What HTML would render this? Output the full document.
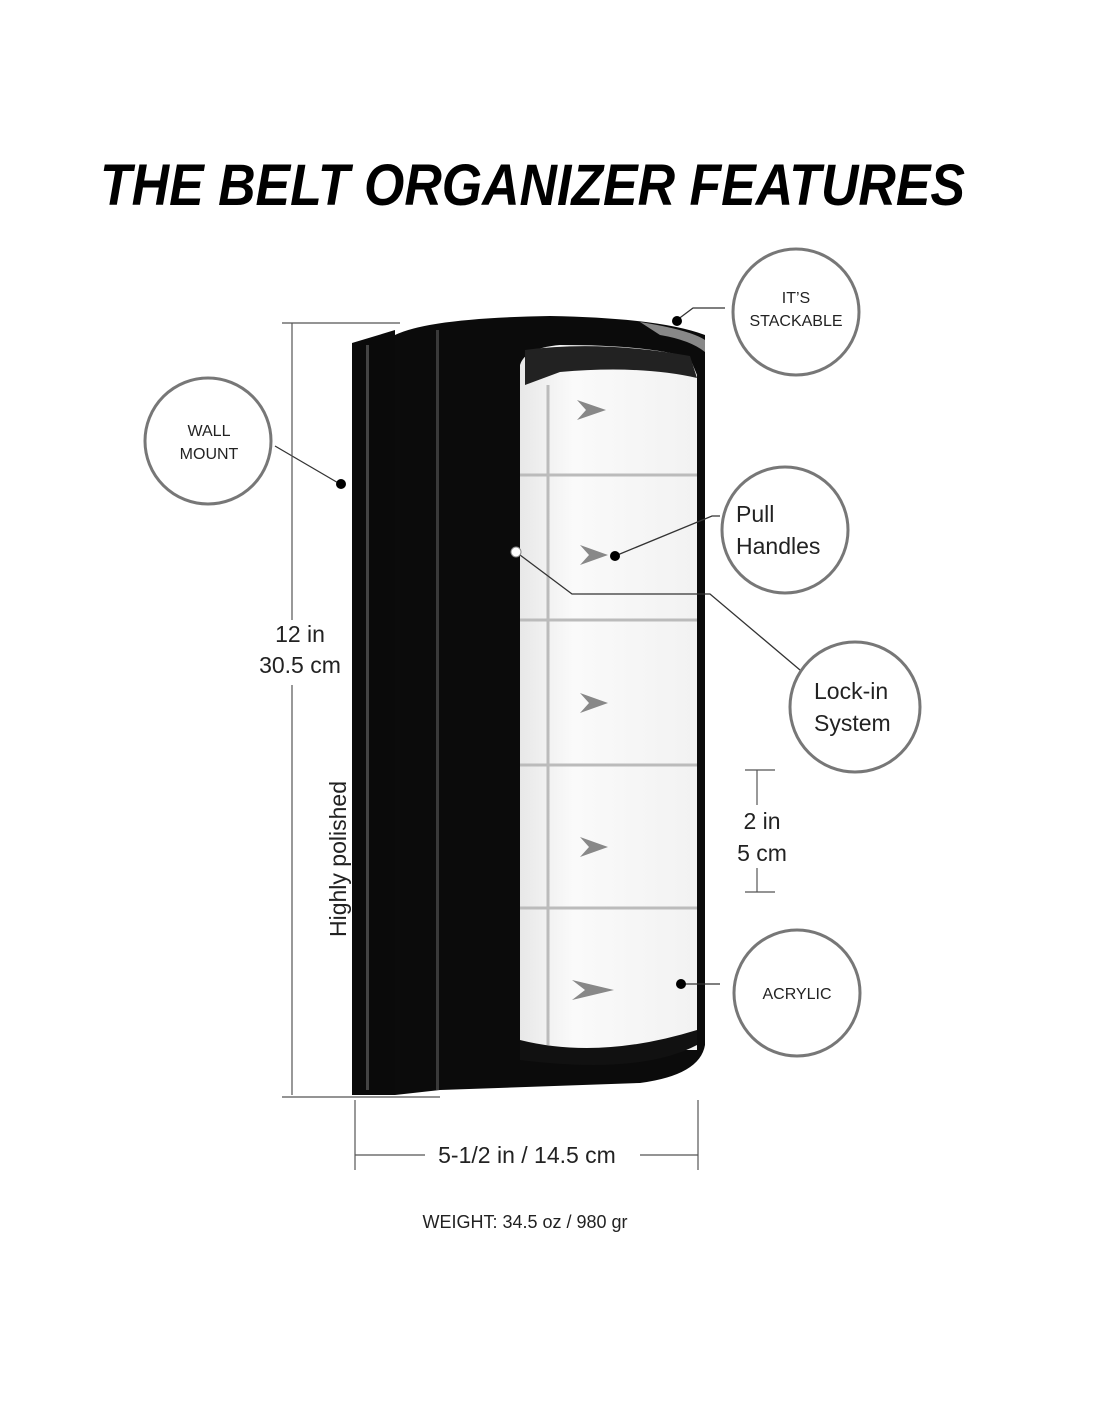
<!DOCTYPE html>
<html><head><meta charset="utf-8"><style>
body{margin:0;background:#fff;}
svg text{font-family:"Liberation Sans",sans-serif;fill:#222;}
</style></head><body>
<svg width="1100" height="1422" viewBox="0 0 1100 1422" xmlns="http://www.w3.org/2000/svg">
<text x="100" y="205" font-size="58" font-weight="bold" font-style="italic" fill="#000" style="fill:#000" textLength="865" lengthAdjust="spacingAndGlyphs">THE BELT ORGANIZER FEATURES</text>

<!-- product -->
<defs>
<linearGradient id="acr" x1="0" x2="1"><stop offset="0" stop-color="#e8e8e8"/><stop offset="0.3" stop-color="#fafafa"/><stop offset="1" stop-color="#f2f2f2"/></linearGradient>
</defs>
<path d="M352 343 L372 337 L395 330 L395 1095 L352 1095 Z" fill="#0a0a0a"/>
<path d="M395 335 Q430 318 550 316 Q660 318 705 335 L705 1045 Q700 1075 640 1083 L440 1090 L395 1095 Z" fill="#0b0b0b"/>
<rect x="366" y="345" width="3" height="745" fill="#444"/>
<rect x="436" y="330" width="3" height="760" fill="#3a3a3a"/>
<path d="M520 365 Q525 348 560 345 Q650 345 690 358 L697 375 L697 1050 L520 1050 Z" fill="url(#acr)"/>
<path d="M525 350 Q600 340 690 356 L697 378 Q640 365 560 372 L525 385 Z" fill="#222"/>
<path d="M640 322 Q690 330 705 340 L705 352 Q690 340 660 335 Z" fill="#888"/>
<g stroke="#bbb" stroke-width="3" fill="none">
<line x1="520" y1="475" x2="697" y2="475"/><line x1="520" y1="620" x2="697" y2="620"/>
<line x1="520" y1="765" x2="697" y2="765"/><line x1="520" y1="908" x2="697" y2="908"/>
<line x1="548" y1="385" x2="548" y2="1045"/>
</g>
<g fill="#888">
<path d="M577 400 L606 410 L577 420 L586 410 Z"/><path d="M580 545 L608 555 L580 565 L589 555 Z"/>
<path d="M580 693 L608 703 L580 713 L589 703 Z"/><path d="M580 837 L608 847 L580 857 L589 847 Z"/>
<path d="M572 980 L614 990 L572 1000 L585 990 Z"/>
</g>
<path d="M520 1040 Q600 1060 697 1030 L697 1045 Q640 1075 520 1060 Z" fill="#111"/>

<!-- connectors -->
<g stroke="#333" stroke-width="1.3" fill="none">
<polyline points="677,320 693,308 725,308"/>
<line x1="275" y1="446" x2="340" y2="484"/>
<polyline points="615,556 712,516 720,516"/>
<polyline points="516,552 572,594 710,594 800,670"/>
<polyline points="680,984 700,984 720,984"/>
</g>
<g fill="#000"><circle cx="677" cy="321" r="5"/><circle cx="341" cy="484" r="5"/><circle cx="615" cy="556" r="5"/><circle cx="681" cy="984" r="5"/></g>
<circle cx="516" cy="552" r="5" fill="#fff" stroke="#888"/>

<!-- circles -->
<g fill="#fff" stroke="#777" stroke-width="3">
<circle cx="796" cy="312" r="63"/><circle cx="208" cy="441" r="63"/>
<circle cx="785" cy="530" r="63"/><circle cx="855" cy="707" r="65"/><circle cx="797" cy="993" r="63"/>
</g>
<g font-size="16" text-anchor="middle">
<text x="796" y="303">IT’S</text><text x="796" y="326">STACKABLE</text>
<text x="209" y="436">WALL</text><text x="209" y="459">MOUNT</text>
<text x="797" y="999">ACRYLIC</text>
</g>
<g font-size="23">
<text x="736" y="522">Pull</text><text x="736" y="554">Handles</text>
<text x="814" y="699">Lock-in</text><text x="814" y="731">System</text>
</g>

<!-- dimensions -->
<g stroke="#555" stroke-width="1.2" fill="none">
<line x1="282" y1="323" x2="400" y2="323"/><line x1="292" y1="323" x2="292" y2="620"/><line x1="292" y1="685" x2="292" y2="1095"/>
<line x1="282" y1="1097" x2="440" y2="1097"/>
<line x1="745" y1="770" x2="775" y2="770"/><line x1="745" y1="892" x2="775" y2="892"/>
<line x1="757" y1="770" x2="757" y2="805"/><line x1="757" y1="868" x2="757" y2="892"/>
<line x1="355" y1="1100" x2="355" y2="1170"/><line x1="698" y1="1100" x2="698" y2="1170"/>
<line x1="355" y1="1155" x2="425" y2="1155"/><line x1="640" y1="1155" x2="698" y2="1155"/>
</g>
<g font-size="23">
<text x="300" y="642" text-anchor="middle">12 in</text><text x="300" y="673" text-anchor="middle">30.5 cm</text>
<text x="762" y="829" text-anchor="middle">2 in</text><text x="762" y="861" text-anchor="middle">5 cm</text>
<text x="527" y="1163" text-anchor="middle">5-1/2 in / 14.5 cm</text>
<text transform="translate(346,937) rotate(-90)" font-size="23">Highly polished</text>
</g>
<text x="525" y="1228" font-size="18" text-anchor="middle">WEIGHT: 34.5 oz / 980 gr</text>
</svg>
</body></html>
